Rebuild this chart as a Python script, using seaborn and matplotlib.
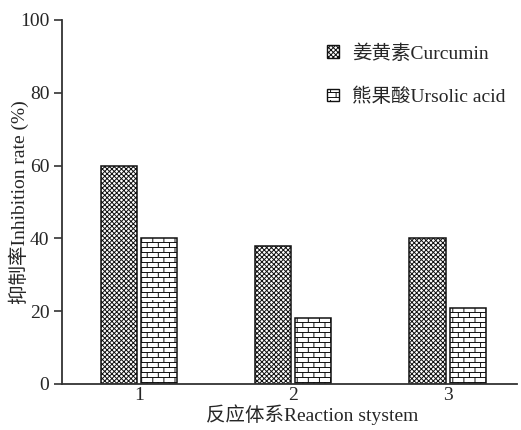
import warnings
warnings.filterwarnings("ignore")
import numpy as np
import pandas as pd
import matplotlib
matplotlib.use("Agg")
import matplotlib.pyplot as plt
import matplotlib.hatch as mhatch
from matplotlib.path import Path
from matplotlib.patches import Patch
import seaborn as sns

# ---- data ----
systems = ["1", "2", "3"]
series_names = ["姜黄素Curcumin", "熊果酸Ursolic acid"]
curcumin = [60, 38, 40]
ursolic = [40, 18, 21]
y_ticks = [0, 20, 40, 60, 80, 100]


# ---- custom brick hatch (triggered by 'b') ----
class BrickHatch(mhatch.HatchPatternBase):
    def __init__(self, hatch, density):
        self.n = hatch.count('b')
        self.rows = 20
        self.cols = 9
        if self.n:
            self.num_vertices = (self.rows + self.rows * self.cols) * 2
        else:
            self.num_vertices = 0

    def set_vertices_and_codes(self, vertices, codes):
        k = 0
        r, c = self.rows, self.cols
        for i in range(r):
            y = (i + 0.5) / r
            vertices[k] = (0.0, y); vertices[k + 1] = (1.0, y)
            codes[k] = Path.MOVETO; codes[k + 1] = Path.LINETO
            k += 2
        for i in range(r):
            y0 = (i + 0.5) / r
            y1 = (i + 1.5) / r
            off = 0.25 if i % 2 == 0 else 0.75
            for j in range(c):
                x = (j + off) / c
                vertices[k] = (x, y0); vertices[k + 1] = (x, y1)
                codes[k] = Path.MOVETO; codes[k + 1] = Path.LINETO
                k += 2


mhatch._hatch_types.append(BrickHatch)

sns.set_style("ticks")
plt.rcParams['font.family'] = ['Liberation Serif', 'Noto Sans CJK SC']
plt.rcParams['hatch.linewidth'] = 0.7

df = pd.DataFrame({
    "system": systems * 2,
    "series": [series_names[0]] * 3 + [series_names[1]] * 3,
    "rate": curcumin + ursolic,
})

FS = 14

fig = plt.figure(figsize=(5.21, 4.30), dpi=100)
ax = fig.add_axes([62 / 521, 46 / 430, 455 / 521, 364 / 430])

sns.barplot(data=df, x="system", y="rate", hue="series", order=systems,
            hue_order=series_names, palette=["white", "white"],
            width=0.52, gap=0.1, edgecolor="#111111", linewidth=1.1,
            legend=False, ax=ax)

hatches = ["xxxxxxx", "b"]
for cont, h in zip(ax.containers, hatches):
    for bar in cont:
        bar.set_hatch(h)

ax.set_xlim(-0.5, 2.45)
ax.set_ylim(0, 100)
ax.set_yticks(y_ticks)
ax.tick_params(axis='y', direction='out', length=6, width=1.2, color='#333333',
               labelsize=FS, pad=3)
ax.tick_params(axis='x', length=0, labelsize=FS, pad=2)
for s in ['top', 'right']:
    ax.spines[s].set_visible(False)
for s in ['left', 'bottom']:
    ax.spines[s].set_linewidth(1.3)
    ax.spines[s].set_color('#333333')

ax.set_xlabel("反应体系Reaction stystem", fontsize=FS)
ax.set_ylabel("抑制率Inhibition rate (%)", fontsize=FS)
ax.xaxis.set_label_coords((312 - 62) / 455, (384 - 415) / 364)
ax.xaxis.label.set_va('center')
ax.yaxis.set_label_coords((19 - 62) / 455, 0.5)
ax.yaxis.label.set_va('center')

handles = [Patch(facecolor="white", edgecolor="#111111", hatch=h, linewidth=1.0)
           for h in hatches]
leg = fig.legend(handles, series_names, loc='upper left',
                 bbox_to_anchor=(327 / 521, 1 - 44 / 430), frameon=False,
                 fontsize=FS, handlelength=0.62, handleheight=0.62,
                 labelspacing=1.28, handletextpad=0.65, borderpad=0,
                 borderaxespad=0)

fig.savefig("out.png", dpi=100)
